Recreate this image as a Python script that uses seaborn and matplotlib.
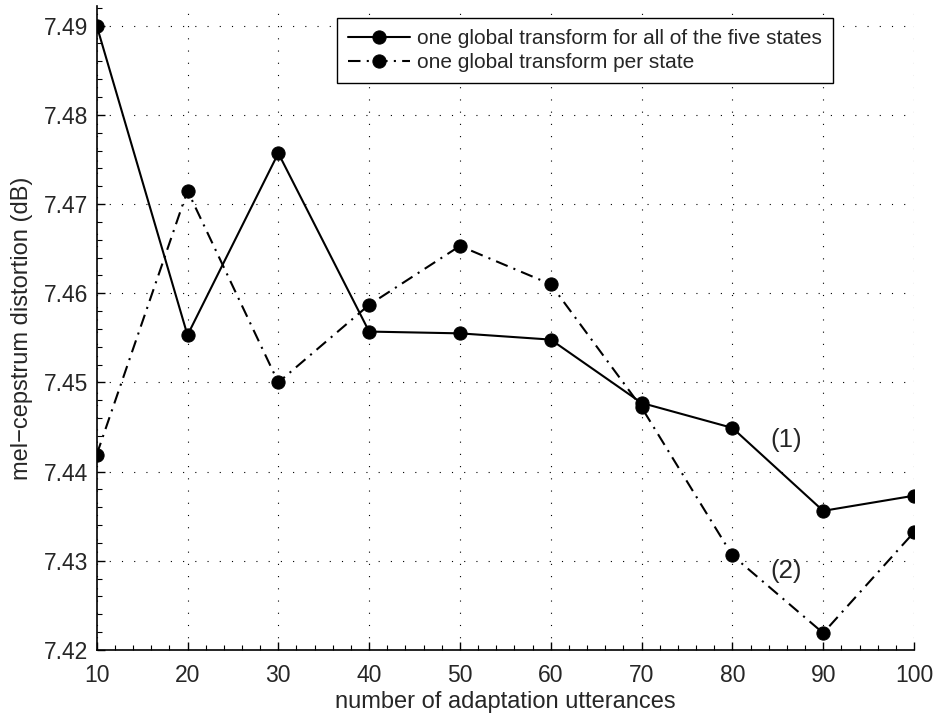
import matplotlib
matplotlib.use("Agg")
import matplotlib.pyplot as plt
import seaborn as sns
import pandas as pd
import numpy as np
from matplotlib.ticker import MultipleLocator

# ---- data ----
utterances = [10, 20, 30, 40, 50, 60, 70, 80, 90, 100]
global_all_states = [7.4900, 7.4553, 7.4757, 7.4557, 7.4555, 7.4548, 7.4477, 7.4449, 7.4356, 7.4373]
global_per_state = [7.4419, 7.4715, 7.4500, 7.4587, 7.4653, 7.4610, 7.4472, 7.4306, 7.4219, 7.4332]
y_ticks = [7.42, 7.43, 7.44, 7.45, 7.46, 7.47, 7.48, 7.49]
label_all = "one global transform for all of the five states"
label_per = "one global transform per state"
x_label = "number of adaptation utterances"
y_label = "mel\u2212cepstrum distortion (dB)"
annot_texts = ["(1)", "(2)"]
annot_x = [85.9, 85.9]
annot_y = [7.4436, 7.4289]

sns.set_style("white")
plt.rcParams['font.family'] = ['Liberation Sans', 'DejaVu Sans']

df = pd.DataFrame({
    "x": utterances * 2,
    "y": global_all_states + global_per_state,
    "series": [label_all] * len(utterances) + [label_per] * len(utterances),
})

fig = plt.figure(figsize=(9.36, 7.15), dpi=100)
ax = fig.add_axes([0.1033, 0.0909, 0.8732, 0.9007])

sns.lineplot(data=df[df.series == label_all], x="x", y="y", ax=ax, color="black",
             marker="o", markersize=9.5, linewidth=1.5, markeredgecolor="black",
             label=label_all)
sns.lineplot(data=df[df.series == label_per], x="x", y="y", ax=ax, color="black",
             marker="o", markersize=9.5, linewidth=1.5, markeredgecolor="black",
             label=label_per)
ax.lines[1].set_linestyle((0, (6, 3, 1, 3)))

ax.set_xlim(10, 100)
ax.set_ylim(7.42, 7.4922)
ax.xaxis.set_minor_locator(MultipleLocator(2))
ax.yaxis.set_minor_locator(MultipleLocator(0.002))
ax.set_yticks(y_ticks)
ax.set_yticklabels([f"{v:.2f}" for v in y_ticks])
ax.set_xticks(utterances)
ax.set_xticklabels([str(v) for v in utterances])

ax.tick_params(axis="both", which="major", direction="in", length=6, width=1,
               labelsize=16.5, color="black", bottom=True, left=True)
ax.tick_params(axis="x", which="major", pad=10)
ax.tick_params(axis="y", which="major", pad=6)
ax.tick_params(axis="both", which="minor", direction="in", length=3.5, width=0.8,
               color="black", bottom=True, left=True)

for side in ["top", "right"]:
    ax.spines[side].set_visible(False)
for side in ["left", "bottom"]:
    ax.spines[side].set_color("black")
    ax.spines[side].set_linewidth(1.2)

ax.grid(True, which="major", color="black", linestyle=(0, (1, 10)), linewidth=0.8)
ax.set_axisbelow(True)

ax.set_xlabel(x_label, fontsize=17, labelpad=3)
ax.set_ylabel(y_label, fontsize=17, labelpad=8)

for t, xx, yy in zip(annot_texts, annot_x, annot_y):
    ax.text(xx, yy, t, fontsize=18.5, ha="center", va="center")

leg = ax.legend(loc="upper right", bbox_to_anchor=(0.901, 0.981), fontsize=15,
                frameon=True, fancybox=False, edgecolor="black", framealpha=1,
                handlelength=3.0, borderpad=0.52, labelspacing=0.25, handletextpad=0.34,
                borderaxespad=0)
leg.get_frame().set_linewidth(1.0)

fig.savefig("out.png", dpi=100)
